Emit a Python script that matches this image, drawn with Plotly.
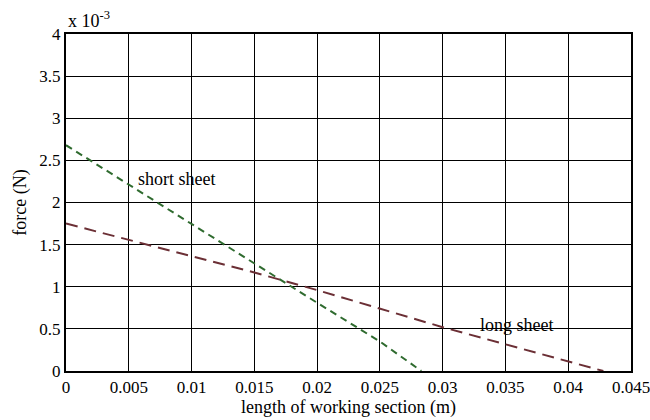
import plotly.graph_objects as go

short_x = [0.0, 0.005, 0.01, 0.015, 0.02, 0.025, 0.0283]
short_y = [2.68, 2.21, 1.745, 1.28, 0.81, 0.35, 0.0]
long_x = [0.0, 0.005, 0.01, 0.015, 0.02, 0.025, 0.03, 0.0428]
long_y = [1.75, 1.555, 1.365, 1.17, 0.96, 0.74, 0.52, 0.0]

xticks = [0, 0.005, 0.01, 0.015, 0.02, 0.025, 0.03, 0.035, 0.04, 0.045]
xlabels = ["0", "0.005", "0.01", "0.015", "0.02", "0.025", "0.03", "0.035", "0.04", "0.045"]
yticks = [0, 0.5, 1, 1.5, 2, 2.5, 3, 3.5, 4]
ylabels = ["0", "0.5", "1", "1.5", "2", "2.5", "3", "3.5", "4"]

font = "Liberation Serif, Times New Roman, serif"
fs = 17

fig = go.Figure()
fig.add_trace(go.Scatter(x=short_x, y=short_y, mode="lines",
                         line=dict(color="#2f6b2f", width=2, dash="7px,5px")))
fig.add_trace(go.Scatter(x=long_x, y=long_y, mode="lines",
                         line=dict(color="#6b2f35", width=2, dash="12px,7px")))

fig.add_annotation(x=0.00555, y=2.28, text="short sheet", showarrow=False,
                   xanchor="left", yanchor="middle", font=dict(size=18, color="black", family=font))
fig.add_annotation(x=0.0328, y=0.55, text="long sheet", showarrow=False,
                   xanchor="left", yanchor="middle", font=dict(size=18, color="black", family=font))
fig.add_annotation(xref="paper", yref="paper", x=0.0, y=1.0, text="x 10<sup>-3</sup>",
                   showarrow=False, xanchor="left", yanchor="bottom", yshift=1,
                   font=dict(size=18, color="black", family=font))

fig.update_layout(
    width=650, height=420,
    margin=dict(l=66, r=19, t=34, b=49, autoexpand=False),
    paper_bgcolor="white", plot_bgcolor="white",
    showlegend=False,
    font=dict(family=font, size=fs, color="black"),
)
fig.update_xaxes(range=[0, 0.045], tickvals=xticks, ticktext=xlabels,
                 showgrid=True, gridcolor="black", gridwidth=1,
                 showline=True, linecolor="black", linewidth=2, mirror=True,
                 ticks="", zeroline=False, tickfont=dict(size=fs, family=font),
                 ticklabeloverflow="allow", automargin=False,
                 title=dict(text="length of working section (m)", standoff=2,
                            font=dict(size=18, family=font)))
fig.update_yaxes(range=[0, 4], tickvals=yticks, ticktext=ylabels,
                 showgrid=True, gridcolor="black", gridwidth=1,
                 showline=True, linecolor="black", linewidth=2, mirror=True,
                 ticks="", zeroline=False, tickfont=dict(size=fs, family=font),
                 automargin=False,
                 title=dict(text="force (N)", standoff=8,
                            font=dict(size=18, family=font)))

fig.write_html("out.html")
